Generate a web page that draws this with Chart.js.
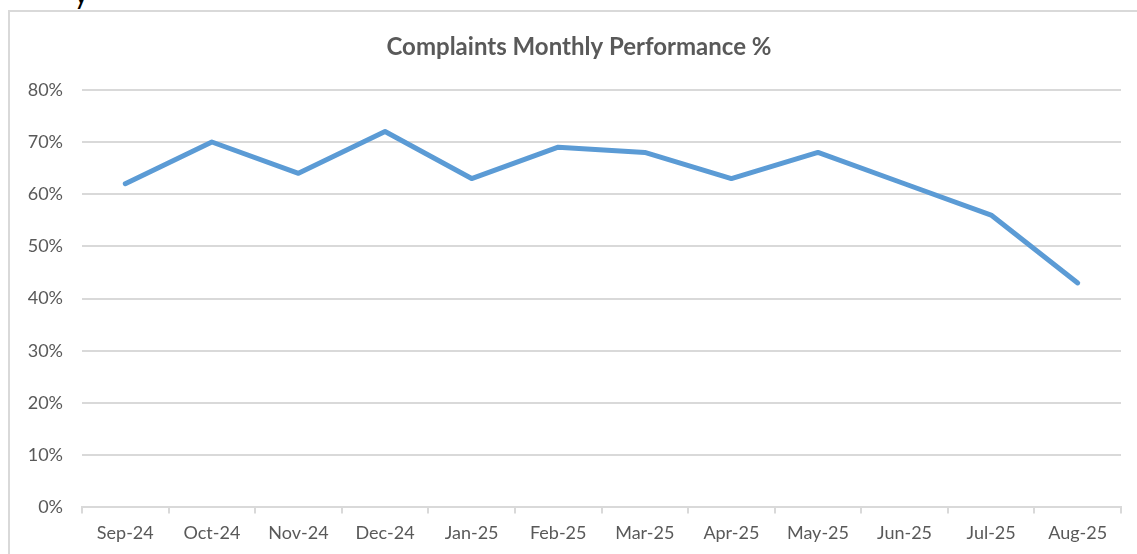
<!DOCTYPE html>
<html lang="en">
<head>
  <meta charset="UTF-8">
  <title>Complaints Monthly Performance</title>
  <script src="https://cdn.jsdelivr.net/npm/chart.js"></script>
  <style>
    html, body {
      margin: 0;
      padding: 0;
      width: 1137px;
      height: 554px;
      overflow: hidden;
      background: #fff;
      font-family: Lato, sans-serif;
    }

    #cut {
      position: absolute;
      left: 74px;
      top: -24px;
      font-size: 28px;
      color: #000;
    }

    #frame {
      position: absolute;
      left: 8px;
      top: 10px;
      width: 1140px;
      height: 560px;
      border-left: 2px solid #d9d9d9;
      border-top: 2px solid #d9d9d9;
    }

    #chart-container {
      position: absolute;
      left: 2px;
      top: 2px;
      width: 1134px;
      height: 542px;
    }
  </style>
</head>
<body>
  <div id="cut">y</div>
  <div id="frame">
    <div id="chart-container">
      <canvas id="perfChart"></canvas>
    </div>
  </div>

  <script>
    const months = ['Sep-24', 'Oct-24', 'Nov-24', 'Dec-24', 'Jan-25', 'Feb-25',
                    'Mar-25', 'Apr-25', 'May-25', 'Jun-25', 'Jul-25', 'Aug-25'];
    const performance = [62, 70, 64, 72, 63, 69, 68, 63, 68, 62, 56, 43];
    const yTicks = [0, 10, 20, 30, 40, 50, 60, 70, 80];

    const textColor = '#595959';
    const gridColor = '#d9d9d9';

    const ctx = document.getElementById('perfChart').getContext('2d');

    new Chart(ctx, {
      type: 'line',
      data: {
        labels: months,
        datasets: [{
          label: 'Performance',
          data: performance,
          borderColor: '#5b9bd5',
          borderWidth: 5,
          borderCapStyle: 'round',
          borderJoinStyle: 'round',
          pointRadius: 0,
          tension: 0,
          fill: false
        }]
      },
      options: {
        responsive: true,
        maintainAspectRatio: false,
        animation: false,
        layout: {
          padding: { left: 0, right: 0, top: 0, bottom: 3 }
        },
        plugins: {
          legend: { display: false },
          tooltip: { enabled: false },
          title: {
            display: true,
            text: 'Complaints Monthly Performance %',
            color: textColor,
            font: { family: 'Lato', size: 24, weight: 'bold' },
            padding: { top: 19, bottom: 28 }
          }
        },
        scales: {
          x: {
            offset: true,
            border: { display: true, color: gridColor, width: 2 },
            grid: {
              offset: true,
              drawOnChartArea: false,
              drawTicks: true,
              tickLength: 6,
              color: gridColor,
              lineWidth: 2
            },
            ticks: {
              color: textColor,
              font: { family: 'Lato', size: 18 },
              padding: 9,
              maxRotation: 0,
              autoSkip: false
            }
          },
          y: {
            min: 0,
            max: 80,
            afterFit: scale => { scale.width = 70; },
            afterBuildTicks: scale => {
              scale.ticks = yTicks.map(v => ({ value: v }));
            },
            border: { display: false },
            grid: {
              drawTicks: false,
              color: gridColor,
              lineWidth: 2
            },
            ticks: {
              color: textColor,
              font: { family: 'Lato', size: 18 },
              padding: 19,
              callback: v => v + '%'
            }
          },
          // empty right-hand spacer so the title stays centred on the whole frame
          yRight: {
            position: 'right',
            min: 0,
            max: 80,
            afterFit: scale => { scale.width = 25; },
            border: { display: false },
            grid: { display: false },
            ticks: { display: false }
          }
        }
      }
    });
  </script>
</body>
</html>
